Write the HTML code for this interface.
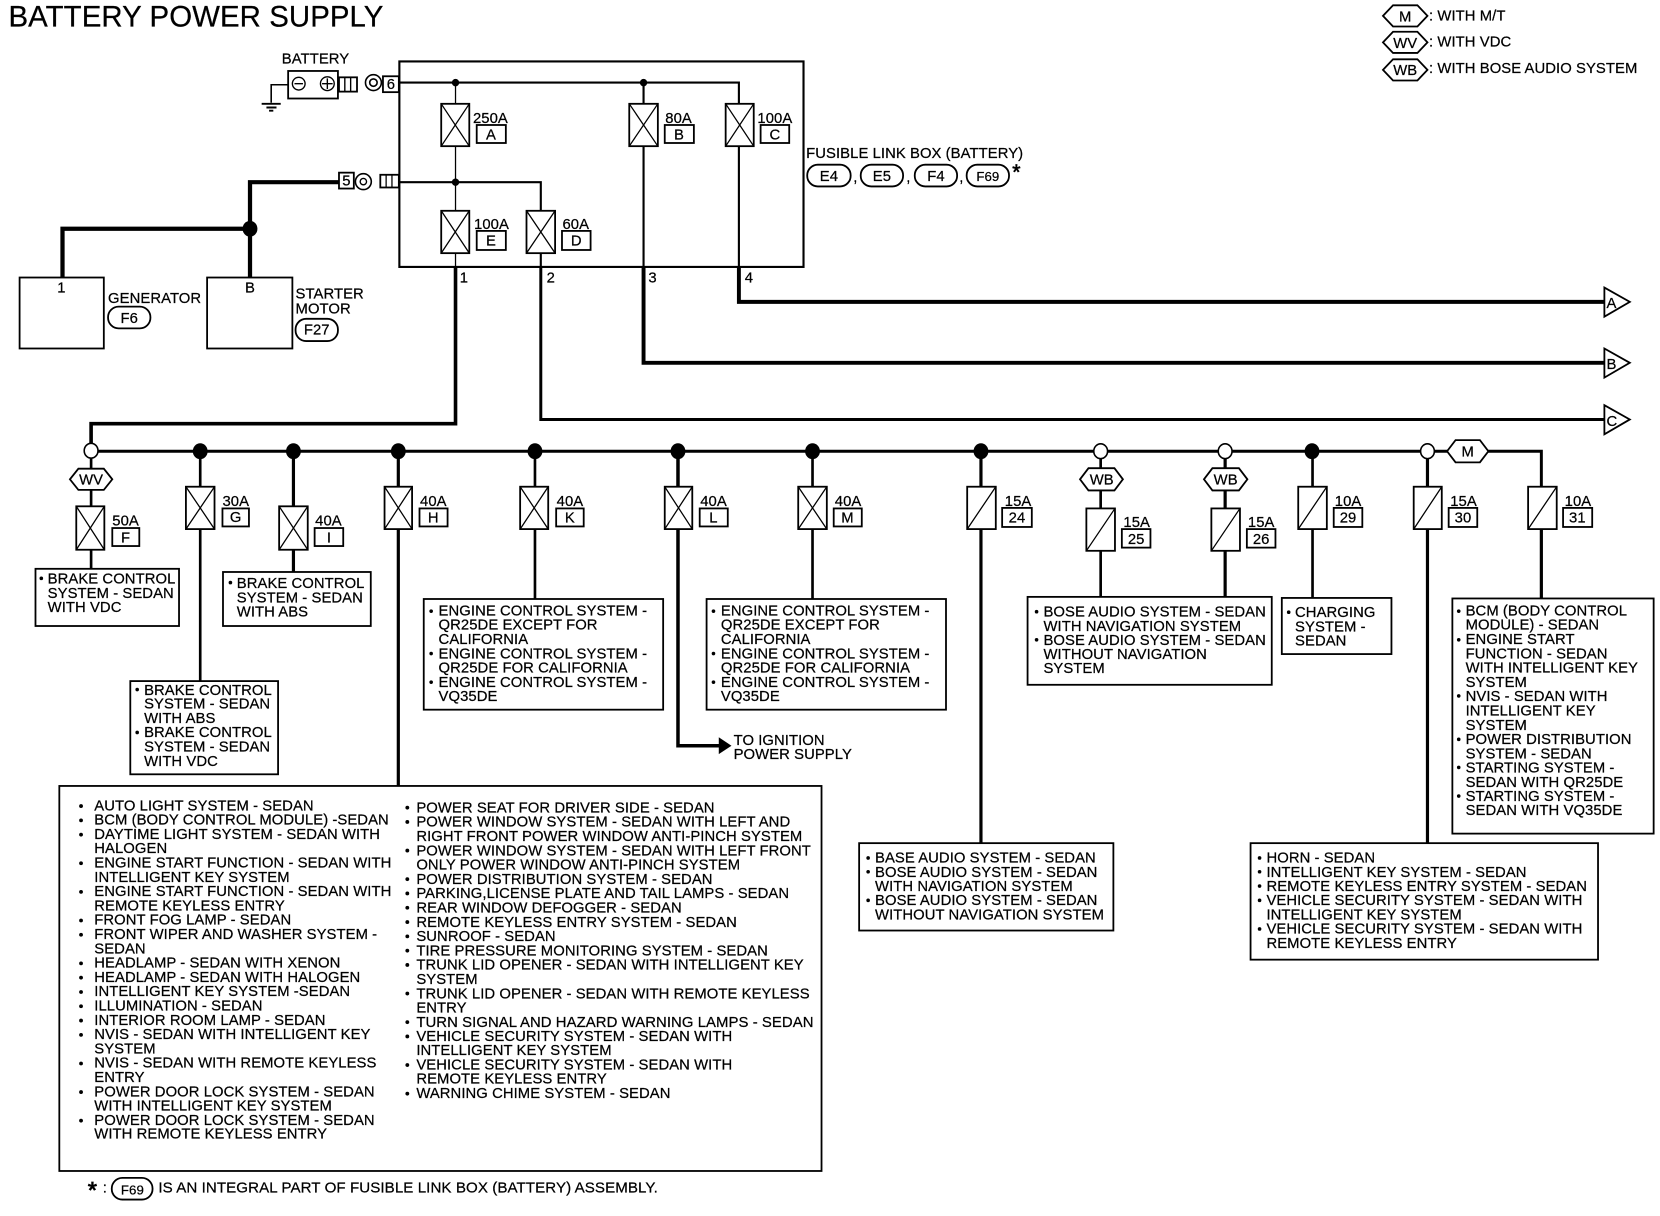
<!DOCTYPE html>
<html><head><meta charset="utf-8"><title>Battery Power Supply</title>
<style>
html,body{margin:0;padding:0;background:#fff}
svg{display:block;width:1660px;height:1216px}
text{font-family:"Liberation Sans",Arial,sans-serif;font-size:14px;letter-spacing:.06px;fill:#000;stroke:#000;stroke-width:.22}
.w{fill:none;stroke:#000;stroke-linejoin:miter}
.b{fill:#fff;stroke:#000;stroke-width:1.7}
.c{text-anchor:middle}
.f{fill:none;stroke:#000;stroke-width:1.2}
</style></head><body>
<svg xmlns="http://www.w3.org/2000/svg" viewBox="0 0 1567 1148" preserveAspectRatio="none">
<rect width="1567" height="1148" fill="#fff"/>
<text x="8" y="25" textLength="354" lengthAdjust="spacingAndGlyphs" style="font-size:27.8px">BATTERY POWER SUPPLY</text>

<!-- main box -->
<rect x="377" y="58" width="381.500" height="194" fill="#fff" stroke="#000" stroke-width="2"/>

<!-- wires -->
<path class="w" stroke-width="2" d="M377 78H697.500V98M607.500 78V98M377 172H510.500V199"/>
<path class="w" stroke-width="1.200" d="M430 78V98M430 138V199M430 239V252"/>
<path class="w" stroke-width="2" d="M607.500 138V252M697.500 138V252M510.500 239V252"/>
<path class="w" stroke-width="4" d="M59 263V216H236M236 263V172H320"/>
<path class="w" stroke-width="3.400" d="M430 252V400H86V420"/>
<path class="w" stroke-width="3.700" d="M697.500 252V285H1515"/>
<path class="w" stroke-width="3.700" d="M607.500 252V342.500H1515"/>
<path class="w" stroke-width="2.800" d="M510.500 252V396H1515"/>
<path class="w" stroke-width="2.800" d="M92 426H1455V459"/>
<path class="w" stroke-width="2.500" d="M86 431V478M86 519V537M189 426V643M505 426V565.500M767 426V565.500M1039 426V563M1239 426V564"/>
<path class="w" stroke-width="3" d="M277 426V540M376 426V742M926 426V796M1156.500 426V563M1347.500 426V796M1455 459V565"/>
<path class="w" stroke-width="3.300" d="M640 426V704H680"/>
<path d="M678.500 696L690.500 704L678.500 712Z" fill="#000"/>

<!-- junctions -->
<g fill="#000">
<circle cx="430" cy="78" r="3.500"/><circle cx="607.500" cy="78" r="3.500"/><circle cx="430" cy="172" r="3.500"/>
<ellipse cx="236" cy="216" rx="7" ry="7.500"/>
<ellipse cx="189" cy="426" rx="7" ry="7.500"/><ellipse cx="277" cy="426" rx="7" ry="7.500"/><ellipse cx="376" cy="426" rx="7" ry="7.500"/>
<ellipse cx="505" cy="426" rx="7" ry="7.500"/><ellipse cx="640" cy="426" rx="7" ry="7.500"/><ellipse cx="767" cy="426" rx="7" ry="7.500"/>
<ellipse cx="926" cy="426" rx="7" ry="7.500"/><ellipse cx="1238.500" cy="426" rx="7" ry="7.500"/>
</g>
<g fill="#fff" stroke="#000" stroke-width="1.500">
<ellipse cx="86" cy="425.500" rx="6.500" ry="7"/><ellipse cx="1039" cy="426" rx="6.500" ry="7"/><ellipse cx="1156.500" cy="426" rx="6.500" ry="7"/><ellipse cx="1347.500" cy="426" rx="6.500" ry="7"/>
</g>

<!-- battery -->
<text x="266" y="60">BATTERY</text>
<rect class="b" x="272" y="67" width="47" height="26" stroke-width="2"/>
<circle cx="282" cy="79" r="6" fill="none" stroke="#000" stroke-width="1.300"/><path class="w" stroke-width="1.300" d="M278 79H286"/>
<circle cx="309" cy="79" r="6.500" fill="none" stroke="#000" stroke-width="1.300"/><path class="w" stroke-width="1.300" d="M304 79H314M309 74V84"/>
<rect class="b" x="320" y="73" width="17" height="13.500"/><path class="w" stroke-width="1.300" d="M325.500 73V86.500M331 73V86.500"/>
<circle cx="352.500" cy="78" r="7.500" fill="#fff" stroke="#000" stroke-width="1.500"/><circle cx="352.500" cy="78" r="3.500" fill="#fff" stroke="#000" stroke-width="1.500"/>
<rect class="b" x="361.500" y="72" width="15" height="15"/><text class="c" x="369" y="84">6</text>
<path class="w" stroke-width="1.500" d="M272 80H256V97"/>
<path class="w" stroke-width="1.800" d="M247 98H265M251.500 101.500H261M254 104.500H258"/>

<!-- connector 5 -->
<rect class="b" x="320" y="163" width="14" height="15"/><text class="c" x="327" y="175">5</text>
<circle cx="343" cy="171.500" r="7.500" fill="#fff" stroke="#000" stroke-width="1.500"/><circle cx="343" cy="171.500" r="3" fill="#fff" stroke="#000" stroke-width="1.300"/>
<rect class="b" x="359" y="165" width="17.500" height="12"/><path class="w" stroke-width="1.200" d="M364.500 165V177M370 165V177"/>

<!-- generator/starter -->
<rect class="b" x="18.500" y="262" width="79.500" height="67" stroke-width="1.500"/>
<rect class="b" x="195.500" y="262" width="80.500" height="67" stroke-width="1.500"/>
<text class="c" x="58" y="276">1</text><text class="c" x="236" y="276">B</text>
<text x="102" y="286">GENERATOR</text>
<text x="279" y="282">STARTER</text><text x="279" y="296">MOTOR</text>
<rect class="b" x="102" y="289.500" width="40" height="20.500" rx="10"/><text class="c" x="122" y="305">F6</text>
<rect class="b" x="279" y="301" width="40" height="21" rx="10"/><text class="c" x="299" y="316">F27</text>

<!-- box fuses -->
<g class="b">
<rect x="416.500" y="98" width="26.500" height="40"/><rect x="594" y="98" width="27" height="40"/><rect x="685" y="98" width="26.500" height="40"/>
<rect x="416.500" y="199" width="26.500" height="40"/><rect x="497" y="199" width="27" height="40"/>
</g>
<path class="f" d="M416.500 98L443 138M443 98L416.500 138M594 98L621 138M621 98L594 138M685 98L711.500 138M711.500 98L685 138M416.500 199L443 239M443 199L416.500 239M497 199L524 239M524 199L497 239"/>
<text x="446.500" y="116">250A</text><rect class="b" x="450" y="118" width="27.500" height="17"/><text class="c" x="463.500" y="131.500">A</text>
<text x="628" y="116">80A</text><rect class="b" x="627.500" y="118" width="27.500" height="17"/><text class="c" x="641" y="131.500">B</text>
<text x="715" y="116">100A</text><rect class="b" x="718" y="118" width="27" height="17"/><text class="c" x="731.500" y="131.500">C</text>
<text x="447.500" y="216">100A</text><rect class="b" x="450" y="218" width="27.500" height="18"/><text class="c" x="463.500" y="232">E</text>
<text x="531" y="216">60A</text><rect class="b" x="530.500" y="218" width="27" height="18"/><text class="c" x="544" y="232">D</text>
<text x="434" y="266.500">1</text><text x="516" y="266.500">2</text><text x="612" y="266.500">3</text><text x="703" y="266.500">4</text>

<text x="761" y="149">FUSIBLE LINK BOX (BATTERY)</text>
<g class="b">
<rect x="762" y="155.500" width="41" height="20.500" rx="10"/><rect x="812.500" y="155.500" width="40" height="20.500" rx="10"/>
<rect x="863.500" y="155.500" width="40" height="20.500" rx="10"/><rect x="912.500" y="155.500" width="40" height="20.500" rx="10"/>
</g>
<text class="c" x="782.500" y="171">E4</text><text class="c" x="832.500" y="171">E5</text><text class="c" x="883.500" y="171">F4</text><text class="c" x="932.500" y="171" style="font-size:12.500px">F69</text>
<text x="805.500" y="172">,</text><text x="855.500" y="172">,</text><text x="905.500" y="172">,</text>
<text x="955.500" y="169" style="font-size:20px;stroke-width:.6">*</text>

<!-- legend -->
<g class="b">
<path d="M1305.500 15L1315 5H1338L1347.500 15L1338 25H1315Z"/>
<path d="M1305.500 40L1315 30H1338L1347.500 40L1338 50H1315Z"/>
<path d="M1305.500 66L1315 56H1338L1347.500 66L1338 76H1315Z"/>
</g>
<text class="c" x="1326.500" y="20.500">M</text><text class="c" x="1326.500" y="45.500">WV</text><text class="c" x="1326.500" y="71">WB</text>
<text x="1349" y="19.500">: WITH M/T</text><text x="1349" y="44">: WITH VDC</text><text x="1349" y="69">: WITH BOSE AUDIO SYSTEM</text>

<!-- arrows -->
<g class="b" stroke-width="1.300">
<path d="M1514.500 271.500L1538.500 285L1514.500 299Z"/><path d="M1514.500 329L1538.500 342.500L1514.500 356.500Z"/><path d="M1514.500 382.500L1538.500 396L1514.500 410Z"/>
</g>
<text x="1516.500" y="291">A</text><text x="1516.500" y="348.500">B</text><text x="1516.500" y="402">C</text>

<!-- option hexes on bus -->
<g class="b">
<path d="M66 452.500L74 442.500H98L106 452.500L98 462.500H74Z"/>
<path d="M1019.500 452.500L1027.500 442H1052L1060 452.500L1052 463H1027.500Z"/>
<path d="M1136.500 452.500L1144.500 442H1169.500L1177.500 452.500L1169.500 463H1144.500Z"/>
<path d="M1366 426L1374 415.500H1397L1405 426L1397 436.500H1374Z"/>
</g>
<text class="c" x="86" y="457.500">WV</text><text class="c" x="1040" y="457.500">WB</text><text class="c" x="1157" y="457.500">WB</text><text class="c" x="1385.500" y="431">M</text>

<!-- bus fuses -->
<g class="b">
<rect x="72" y="478" width="26.500" height="41"/><rect x="175.500" y="459.500" width="27" height="40"/><rect x="263.500" y="478" width="27" height="41"/>
<rect x="363" y="459.500" width="26" height="40"/><rect x="491" y="459.500" width="26.500" height="40"/><rect x="627.500" y="459.500" width="26" height="40"/>
<rect x="753.500" y="459.500" width="27" height="40"/>
<rect x="913" y="459.500" width="27" height="40"/><rect x="1025.500" y="480" width="27" height="40"/><rect x="1143.500" y="480" width="27" height="40"/>
<rect x="1225.500" y="459.500" width="27" height="40"/><rect x="1334.500" y="459.500" width="26.500" height="40"/><rect x="1442.500" y="459.500" width="27" height="40"/>
</g>
<path class="f" d="M72 478L98.500 519M98.500 478L72 519M175.500 459.500L202.500 499.500M202.500 459.500L175.500 499.500M263.500 478L290.500 519M290.500 478L263.500 519M363 459.500L389 499.500M389 459.500L363 499.500M491 459.500L517.500 499.500M517.500 459.500L491 499.500M627.500 459.500L653.500 499.500M653.500 459.500L627.500 499.500M753.500 459.500L780.500 499.500M780.500 459.500L753.500 499.500"/>
<path class="f" d="M913 499.500L940 459.500M1025.500 520L1052.500 480M1143.500 520L1170.500 480M1225.500 499.500L1252.500 459.500M1334.500 499.500L1361 459.500M1442.500 499.500L1469.500 459.500"/>

<text x="106" y="496">50A</text><rect class="b" x="106" y="498.500" width="25.500" height="17"/><text class="c" x="118.500" y="512">F</text>
<text x="210" y="477.500">30A</text><rect class="b" x="210" y="480" width="25" height="17"/><text class="c" x="222.500" y="493">G</text>
<text x="297.500" y="496">40A</text><rect class="b" x="297" y="498.500" width="27" height="17"/><text class="c" x="310.500" y="512">I</text>
<text x="396.500" y="477.500">40A</text><rect class="b" x="396" y="480" width="26.500" height="17"/><text class="c" x="409" y="493.500">H</text>
<text x="525.500" y="477.500">40A</text><rect class="b" x="525" y="480" width="26" height="17"/><text class="c" x="538" y="493.500">K</text>
<text x="661" y="477.500">40A</text><rect class="b" x="660.500" y="480" width="26.500" height="17"/><text class="c" x="673.500" y="493.500">L</text>
<text x="788" y="477.500">40A</text><rect class="b" x="787" y="480" width="26.500" height="17"/><text class="c" x="800" y="493.500">M</text>
<text x="948.500" y="477.500">15A</text><rect class="b" x="946" y="479.500" width="28" height="18"/><text class="c" x="960" y="493.500">24</text>
<text x="1060.500" y="497.500">15A</text><rect class="b" x="1059" y="499.500" width="27" height="17.500"/><text class="c" x="1072.500" y="513.500">25</text>
<text x="1178" y="497.500">15A</text><rect class="b" x="1177" y="499.500" width="27" height="17.500"/><text class="c" x="1190.500" y="513.500">26</text>
<text x="1260" y="477.500">10A</text><rect class="b" x="1259" y="479.500" width="27" height="18"/><text class="c" x="1272.500" y="493.500">29</text>
<text x="1369" y="477.500">15A</text><rect class="b" x="1367.500" y="479.500" width="27" height="18"/><text class="c" x="1381" y="493.500">30</text>
<text x="1477" y="477.500">10A</text><rect class="b" x="1475.500" y="479.500" width="27.500" height="18"/><text class="c" x="1489" y="493.500">31</text>

<!-- text boxes -->
<g class="b">
<rect x="33.500" y="537" width="135.500" height="54"/>
<rect x="210.500" y="540" width="139.500" height="51"/>
<rect x="123" y="643" width="139.500" height="88"/>
<rect x="400" y="565.500" width="226" height="104.500"/>
<rect x="667" y="565.500" width="226" height="104.500"/>
<rect x="970" y="563.500" width="230.500" height="83"/>
<rect x="1210" y="564.500" width="103.500" height="53"/>
<rect x="1371" y="565" width="190" height="222"/>
<rect x="811" y="796" width="240" height="82.500"/>
<rect x="1180.500" y="796" width="328" height="110"/>
<rect x="56" y="742" width="719.500" height="363.500"/>
</g>

<!-- bullets -->
<g fill="#000">
<circle cx="39" cy="546" r="1.700"/><circle cx="217.500" cy="550" r="1.700"/>
<circle cx="129.500" cy="651" r="1.700"/><circle cx="129.500" cy="691.500" r="1.700"/>
<circle cx="407" cy="577" r="1.700"/><circle cx="407" cy="617" r="1.700"/><circle cx="407" cy="644" r="1.700"/>
<circle cx="673.500" cy="577" r="1.700"/><circle cx="673.500" cy="617" r="1.700"/><circle cx="673.500" cy="644" r="1.700"/>
<circle cx="978.500" cy="577.500" r="1.700"/><circle cx="978.500" cy="604" r="1.700"/>
<circle cx="1216.500" cy="578" r="1.700"/>
<circle cx="1377" cy="577" r="1.700"/><circle cx="1377" cy="604" r="1.700"/><circle cx="1377" cy="657" r="1.700"/><circle cx="1377" cy="698" r="1.700"/><circle cx="1377" cy="724.500" r="1.700"/><circle cx="1377" cy="751.500" r="1.700"/>
<circle cx="819.500" cy="810" r="1.700"/><circle cx="819.500" cy="823" r="1.700"/><circle cx="819.500" cy="850" r="1.700"/>
<circle cx="1189" cy="810" r="1.700"/><circle cx="1189" cy="823" r="1.700"/><circle cx="1189" cy="836.500" r="1.700"/><circle cx="1189" cy="850" r="1.700"/><circle cx="1189" cy="877" r="1.700"/>
<circle cx="76.500" cy="761" r="1.800"/><circle cx="76.500" cy="774.500" r="1.800"/><circle cx="76.500" cy="788" r="1.800"/><circle cx="76.500" cy="815" r="1.800"/><circle cx="76.500" cy="842" r="1.800"/><circle cx="76.500" cy="869" r="1.800"/><circle cx="76.500" cy="882.500" r="1.800"/><circle cx="76.500" cy="909.500" r="1.800"/><circle cx="76.500" cy="923" r="1.800"/><circle cx="76.500" cy="936.500" r="1.800"/><circle cx="76.500" cy="950" r="1.800"/><circle cx="76.500" cy="963.500" r="1.800"/><circle cx="76.500" cy="977" r="1.800"/><circle cx="76.500" cy="1004" r="1.800"/><circle cx="76.500" cy="1031" r="1.800"/><circle cx="76.500" cy="1058" r="1.800"/>
<circle cx="384.500" cy="762.500" r="1.800"/><circle cx="384.500" cy="776" r="1.800"/><circle cx="384.500" cy="803" r="1.800"/><circle cx="384.500" cy="830" r="1.800"/><circle cx="384.500" cy="843.500" r="1.800"/><circle cx="384.500" cy="857" r="1.800"/><circle cx="384.500" cy="870.500" r="1.800"/><circle cx="384.500" cy="884" r="1.800"/><circle cx="384.500" cy="897.500" r="1.800"/><circle cx="384.500" cy="911" r="1.800"/><circle cx="384.500" cy="938" r="1.800"/><circle cx="384.500" cy="965" r="1.800"/><circle cx="384.500" cy="978.500" r="1.800"/><circle cx="384.500" cy="1005.500" r="1.800"/><circle cx="384.500" cy="1032.500" r="1.800"/>
</g>

<text x="45" y="551">BRAKE CONTROL</text><text x="45" y="564.500">SYSTEM - SEDAN</text><text x="45" y="578">WITH VDC</text>
<text x="223.500" y="555">BRAKE CONTROL</text><text x="223.500" y="569">SYSTEM - SEDAN</text><text x="223.500" y="582">WITH ABS</text>
<text x="136" y="656">BRAKE CONTROL</text><text x="136" y="669">SYSTEM - SEDAN</text><text x="136" y="682.500">WITH ABS</text><text x="136" y="696">BRAKE CONTROL</text><text x="136" y="709.500">SYSTEM - SEDAN</text><text x="136" y="723">WITH VDC</text>

<text x="414" y="581">ENGINE CONTROL SYSTEM -</text><text x="414" y="594.500">QR25DE EXCEPT FOR</text><text x="414" y="608">CALIFORNIA</text><text x="414" y="621.500">ENGINE CONTROL SYSTEM -</text><text x="414" y="635">QR25DE FOR CALIFORNIA</text><text x="414" y="648.500">ENGINE CONTROL SYSTEM -</text><text x="414" y="662">VQ35DE</text>
<text x="680.500" y="581">ENGINE CONTROL SYSTEM -</text><text x="680.500" y="594.500">QR25DE EXCEPT FOR</text><text x="680.500" y="608">CALIFORNIA</text><text x="680.500" y="621.500">ENGINE CONTROL SYSTEM -</text><text x="680.500" y="635">QR25DE FOR CALIFORNIA</text><text x="680.500" y="648.500">ENGINE CONTROL SYSTEM -</text><text x="680.500" y="662">VQ35DE</text>

<text x="692.500" y="703.500">TO IGNITION</text><text x="692.500" y="716.500">POWER SUPPLY</text>

<text x="985" y="582">BOSE AUDIO SYSTEM - SEDAN</text><text x="985" y="595.500">WITH NAVIGATION SYSTEM</text><text x="985" y="609">BOSE AUDIO SYSTEM - SEDAN</text><text x="985" y="622">WITHOUT NAVIGATION</text><text x="985" y="635.500">SYSTEM</text>
<text x="1222.500" y="582.500">CHARGING</text><text x="1222.500" y="596">SYSTEM -</text><text x="1222.500" y="609.500">SEDAN</text>

<text x="1383.500" y="581">BCM (BODY CONTROL</text><text x="1383.500" y="594.500">MODULE) - SEDAN</text><text x="1383.500" y="608">ENGINE START</text><text x="1383.500" y="621.500">FUNCTION - SEDAN</text><text x="1383.500" y="635">WITH INTELLIGENT KEY</text><text x="1383.500" y="648.500">SYSTEM</text><text x="1383.500" y="662">NVIS - SEDAN WITH</text><text x="1383.500" y="675.500">INTELLIGENT KEY</text><text x="1383.500" y="689">SYSTEM</text><text x="1383.500" y="702.500">POWER DISTRIBUTION</text><text x="1383.500" y="716">SYSTEM - SEDAN</text><text x="1383.500" y="729.500">STARTING SYSTEM -</text><text x="1383.500" y="743">SEDAN WITH QR25DE</text><text x="1383.500" y="756">STARTING SYSTEM -</text><text x="1383.500" y="769.500">SEDAN WITH VQ35DE</text>

<text x="826" y="814.500">BASE AUDIO SYSTEM - SEDAN</text><text x="826" y="828">BOSE AUDIO SYSTEM - SEDAN</text><text x="826" y="841">WITH NAVIGATION SYSTEM</text><text x="826" y="854.500">BOSE AUDIO SYSTEM - SEDAN</text><text x="826" y="868">WITHOUT NAVIGATION SYSTEM</text>

<text x="1195.500" y="814.500">HORN - SEDAN</text><text x="1195.500" y="828">INTELLIGENT KEY SYSTEM - SEDAN</text><text x="1195.500" y="841">REMOTE KEYLESS ENTRY SYSTEM - SEDAN</text><text x="1195.500" y="854.500">VEHICLE SECURITY SYSTEM - SEDAN WITH</text><text x="1195.500" y="868">INTELLIGENT KEY SYSTEM</text><text x="1195.500" y="881.500">VEHICLE SECURITY SYSTEM - SEDAN WITH</text><text x="1195.500" y="895">REMOTE KEYLESS ENTRY</text>

<!-- big box column 1 -->
<text x="89" y="765">AUTO LIGHT SYSTEM - SEDAN</text>
<text x="89" y="778.500">BCM (BODY CONTROL MODULE) -SEDAN</text>
<text x="89" y="792">DAYTIME LIGHT SYSTEM - SEDAN WITH</text>
<text x="89" y="805.500">HALOGEN</text>
<text x="89" y="819">ENGINE START FUNCTION - SEDAN WITH</text>
<text x="89" y="832.500">INTELLIGENT KEY SYSTEM</text>
<text x="89" y="846">ENGINE START FUNCTION - SEDAN WITH</text>
<text x="89" y="859.500">REMOTE KEYLESS ENTRY</text>
<text x="89" y="873">FRONT FOG LAMP - SEDAN</text>
<text x="89" y="886.500">FRONT WIPER AND WASHER SYSTEM -</text>
<text x="89" y="900">SEDAN</text>
<text x="89" y="913.500">HEADLAMP - SEDAN WITH XENON</text>
<text x="89" y="927">HEADLAMP - SEDAN WITH HALOGEN</text>
<text x="89" y="940.500">INTELLIGENT KEY SYSTEM -SEDAN</text>
<text x="89" y="954">ILLUMINATION - SEDAN</text>
<text x="89" y="967.500">INTERIOR ROOM LAMP - SEDAN</text>
<text x="89" y="981">NVIS - SEDAN WITH INTELLIGENT KEY</text>
<text x="89" y="994.500">SYSTEM</text>
<text x="89" y="1008">NVIS - SEDAN WITH REMOTE KEYLESS</text>
<text x="89" y="1021.500">ENTRY</text>
<text x="89" y="1035">POWER DOOR LOCK SYSTEM - SEDAN</text>
<text x="89" y="1048.500">WITH INTELLIGENT KEY SYSTEM</text>
<text x="89" y="1062">POWER DOOR LOCK SYSTEM - SEDAN</text>
<text x="89" y="1075">WITH REMOTE KEYLESS ENTRY</text>

<!-- big box column 2 -->
<text x="393" y="767">POWER SEAT FOR DRIVER SIDE - SEDAN</text>
<text x="393" y="780.500">POWER WINDOW SYSTEM - SEDAN WITH LEFT AND</text>
<text x="393" y="794">RIGHT FRONT POWER WINDOW ANTI-PINCH SYSTEM</text>
<text x="393" y="807.500">POWER WINDOW SYSTEM - SEDAN WITH LEFT FRONT</text>
<text x="393" y="821">ONLY POWER WINDOW ANTI-PINCH SYSTEM</text>
<text x="393" y="834.500">POWER DISTRIBUTION SYSTEM - SEDAN</text>
<text x="393" y="848">PARKING,LICENSE PLATE AND TAIL LAMPS - SEDAN</text>
<text x="393" y="861.500">REAR WINDOW DEFOGGER - SEDAN</text>
<text x="393" y="875">REMOTE KEYLESS ENTRY SYSTEM - SEDAN</text>
<text x="393" y="888.500">SUNROOF - SEDAN</text>
<text x="393" y="902">TIRE PRESSURE MONITORING SYSTEM - SEDAN</text>
<text x="393" y="915.500">TRUNK LID OPENER - SEDAN WITH INTELLIGENT KEY</text>
<text x="393" y="929">SYSTEM</text>
<text x="393" y="942.500">TRUNK LID OPENER - SEDAN WITH REMOTE KEYLESS</text>
<text x="393" y="956">ENTRY</text>
<text x="393" y="969.500" textLength="375" lengthAdjust="spacingAndGlyphs">TURN SIGNAL AND HAZARD WARNING LAMPS - SEDAN</text>
<text x="393" y="983">VEHICLE SECURITY SYSTEM - SEDAN WITH</text>
<text x="393" y="996">INTELLIGENT KEY SYSTEM</text>
<text x="393" y="1009.500">VEHICLE SECURITY SYSTEM - SEDAN WITH</text>
<text x="393" y="1023">REMOTE KEYLESS ENTRY</text>
<text x="393" y="1036.500">WARNING CHIME SYSTEM - SEDAN</text>

<!-- footer -->
<text x="83" y="1131" style="font-size:22px;stroke-width:.8">*</text><text x="97" y="1126">:</text>
<rect class="b" x="105.500" y="1112" width="38.500" height="20.500" rx="10"/><text class="c" x="125" y="1127.500" style="font-size:12.500px">F69</text>
<text x="149.500" y="1126" textLength="471.500" lengthAdjust="spacingAndGlyphs">IS AN INTEGRAL PART OF FUSIBLE LINK BOX (BATTERY) ASSEMBLY.</text>
</svg>
</body></html>
